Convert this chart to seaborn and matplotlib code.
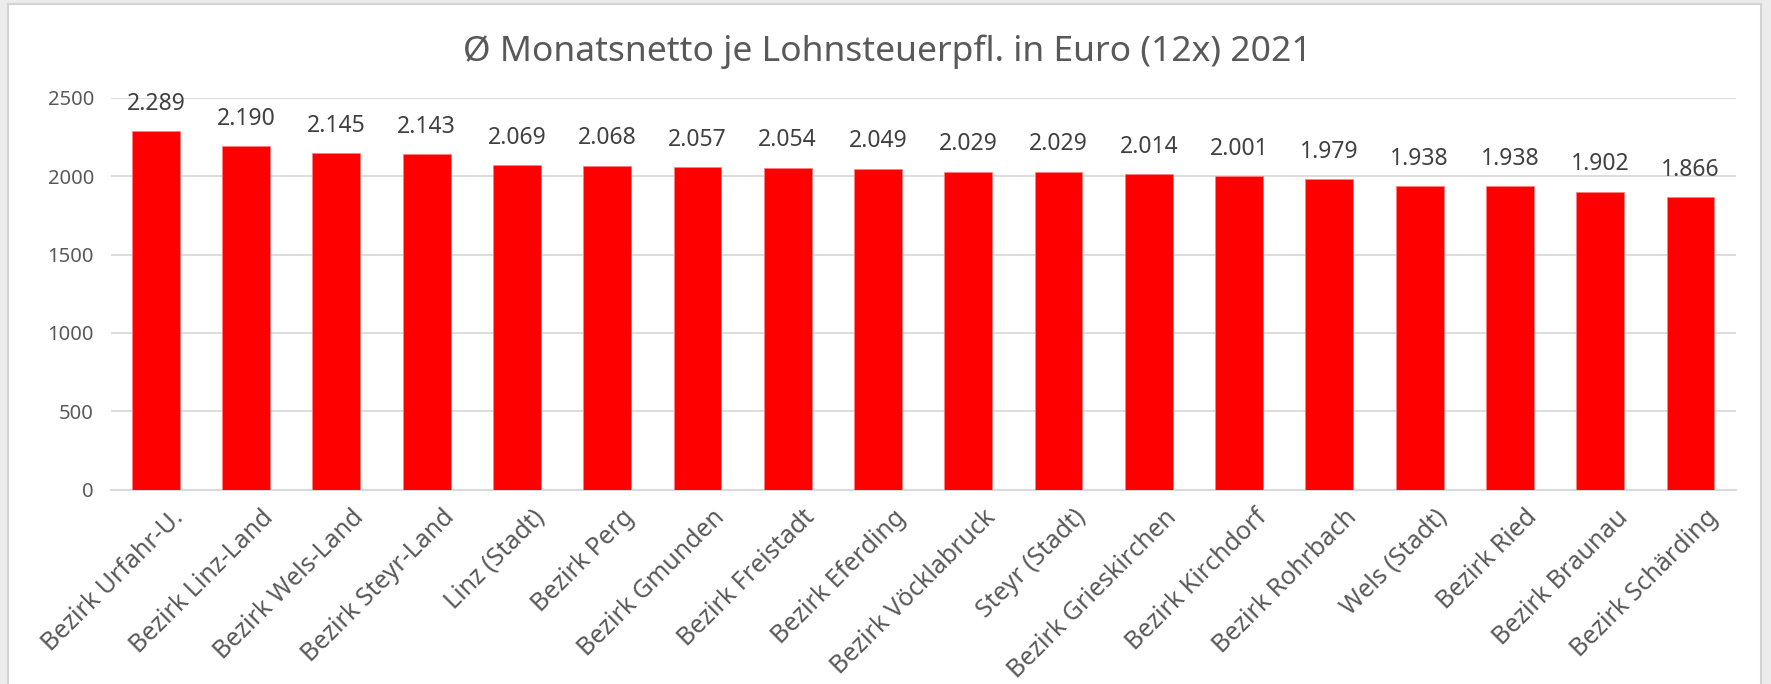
import matplotlib
matplotlib.use("Agg")
import seaborn as sns
import pandas as pd
import matplotlib.pyplot as plt
import matplotlib.transforms as mtransforms
from matplotlib.patches import Rectangle

# Daten: Bezirke und durchschnittliches Monatsnetto
bezirke = ['Bezirk Urfahr-U.', 'Bezirk Linz-Land', 'Bezirk Wels-Land', 'Bezirk Steyr-Land',
           'Linz (Stadt)', 'Bezirk Perg', 'Bezirk Gmunden', 'Bezirk Freistadt',
           'Bezirk Eferding', 'Bezirk Vöcklabruck', 'Steyr (Stadt)', 'Bezirk Grieskirchen',
           'Bezirk Kirchdorf', 'Bezirk Rohrbach', 'Wels (Stadt)', 'Bezirk Ried',
           'Bezirk Braunau', 'Bezirk Schärding']
netto = [2289, 2190, 2145, 2143, 2069, 2068, 2057, 2054, 2049, 2029, 2029, 2014,
         2001, 1979, 1938, 1938, 1902, 1866]
y_ticks = [0, 500, 1000, 1500, 2000, 2500]
titel = 'Ø Monatsnetto je Lohnsteuerpfl. in Euro (12x) 2021'

df = pd.DataFrame({'bezirk': bezirke, 'netto': netto})

sns.set_style("white")
plt.rcParams['font.family'] = ['Noto Sans', 'DejaVu Sans']
text_grau = '#595959'

fig = plt.figure(figsize=(17.71, 6.84), dpi=100)
fig.patch.set_facecolor('#ececec')
# weisser Diagrammbereich mit grauem Rahmen
fig.patches.append(Rectangle((0.0045, -0.01), 0.990, 1.004, transform=fig.transFigure,
                             facecolor='white', edgecolor='#d4d4d4', linewidth=1.5, zorder=-5))

ax = fig.add_axes([0.0625, 0.284, 0.9175, 0.573])
ax.set_facecolor('none')

sns.barplot(x='bezirk', y='netto', data=df, color='#ff0000', width=0.53,
            edgecolor='#ff8080', linewidth=0.6, saturation=1, ax=ax, zorder=3)

ax.set_ylim(0, 2500)
ax.set_xlim(-0.5, len(bezirke) - 0.5)
ax.set_yticks(y_ticks)
ax.set_yticklabels([str(v) for v in y_ticks], color=text_grau, fontsize=14.5)
ax.yaxis.grid(True, color='#d9d9d9', linewidth=1.3, zorder=0)
ax.set_axisbelow(True)
ax.tick_params(axis='both', length=0, pad=12)
ax.tick_params(axis='x', pad=11)
ax.set_xticks(range(len(bezirke)))
ax.set_xticklabels(bezirke, rotation=45, ha='right', rotation_mode='anchor',
                   color=text_grau, fontsize=18)
# Beschriftungen leicht nach rechts schieben wie in Excel
verschiebung = mtransforms.ScaledTranslation(0.15, 0, fig.dpi_scale_trans)
for lbl in ax.get_xticklabels():
    lbl.set_transform(lbl.get_transform() + verschiebung)
for s in ['top', 'right', 'left']:
    ax.spines[s].set_visible(False)
ax.spines['bottom'].set_color('#d9d9d9')
ax.spines['bottom'].set_linewidth(1.5)
ax.set_xlabel('')
ax.set_ylabel('')

# Datenbeschriftungen im deutschen Format (2.289)
for i, v in enumerate(netto):
    ax.annotate(f'{v:,}'.replace(',', '.'), (i, v), xytext=(0, 11), textcoords='offset points',
                ha='center', va='bottom', fontsize=16.5, color='#404040')

fig.text(0.501, 0.925, titel, ha='center', va='center', fontsize=25.5, color=text_grau)

plt.savefig('out.png', dpi=100, facecolor=fig.get_facecolor())
